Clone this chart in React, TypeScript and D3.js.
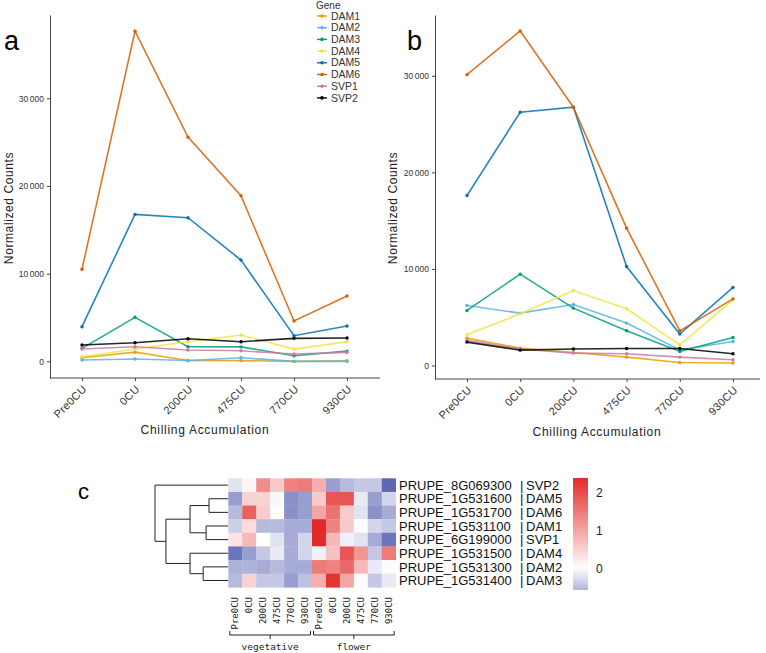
import React, { useEffect, useRef } from 'react';
import * as d3 from 'd3';

// Stages and genes
const stages = ['Pre0CU', '0CU', '200CU', '475CU', '770CU', '930CU'];
const genes = ['DAM1', 'DAM2', 'DAM3', 'DAM4', 'DAM5', 'DAM6', 'SVP1', 'SVP2'];
const geneColors = ['#E69F00', '#56B4E9', '#009E73', '#F0E442', '#0072B2', '#D55E00', '#CC79A7', '#000000'];

// Panel a (vegetative) normalized counts, one array per gene
const aDAM1 = [410, 1050, 100, 80, 0, 60];
const aDAM2 = [150, 260, 100, 410, 0, 0];
const aDAM3 = [1480, 5020, 1670, 1650, 640, 1170];
const aDAM4 = [530, 1400, 2240, 3000, 1400, 2240];
const aDAM5 = [3950, 16760, 16380, 11550, 2920, 4030];
const aDAM6 = [10500, 37660, 25570, 18880, 4600, 7450];
const aSVP1 = [1400, 1670, 1290, 1200, 830, 1020];
const aSVP2 = [1860, 2120, 2580, 2240, 2620, 2660];

// Panel b (flower) normalized counts
const bDAM1 = [2830, 1800, 1350, 870, 310, 250];
const bDAM2 = [6210, 5420, 6310, 4390, 1620, 2480];
const bDAM3 = [5700, 9460, 5940, 3590, 1450, 2900];
const bDAM4 = [3180, 5350, 7760, 5870, 2140, 6800];
const bDAM5 = [17600, 26230, 26750, 10250, 3250, 8080];
const bDAM6 = [30120, 34650, 26750, 14220, 3590, 6900];
const bSVP1 = [2600, 1700, 1280, 1210, 870, 590];
const bSVP2 = [2420, 1590, 1700, 1760, 1760, 1210];

const yTicks = [0, 10000, 20000, 30000];

// Heatmap (z-scores), rows in dendrogram order
const heatGenes = ['SVP2', 'DAM5', 'DAM6', 'DAM1', 'SVP1', 'DAM4', 'DAM2', 'DAM3'];
const heatIds = ['PRUPE_8G069300', 'PRUPE_1G531600', 'PRUPE_1G531700', 'PRUPE_1G531100',
  'PRUPE_6G199000', 'PRUPE_1G531500', 'PRUPE_1G531300', 'PRUPE_1G531400'];
const tissues = ['vegetative', 'flower'];
const heatValues = [
  [-0.2, 0.1, 1.3, 0.6, 1.4, 1.5, 0.9, -0.7, -0.5, -0.4, -0.4, -1.1],
  [-0.7, 0.5, 0.5, -0.05, -0.8, -0.7, 0.6, 1.9, 1.9, -0.15, -0.7, -0.3],
  [-0.5, 1.8, 0.6, 0.05, -0.8, -0.7, 1.0, 1.6, 0.6, -0.2, -0.8, -0.6],
  [-0.35, 0.4, -0.5, -0.5, -0.6, -0.6, 2.4, 1.4, 0.6, 0.05, -0.3, -0.4],
  [0.3, 0.8, 0.0, -0.2, -0.6, -0.3, 2.4, 0.8, -0.1, -0.2, -0.6, -1.0],
  [-1.0, -0.7, -0.4, -0.15, -0.6, -0.3, -0.1, 0.7, 1.9, 1.2, -0.4, 1.5],
  [-0.55, -0.55, -0.6, -0.5, -0.6, -0.6, 1.5, 1.4, 1.7, 0.8, -0.15, 0.05],
  [-0.5, 0.5, -0.4, -0.4, -0.7, -0.45, 0.9, 2.3, 1.0, 0.05, -0.4, -0.15],
];
const legendTicks = [0, 1, 2];

// Row dendrogram (relative merge heights)
const dendro = {
  h: 1, children: [
    { name: 'SVP2', h: 0 },
    {
      h: 0.85, children: [
        {
          h: 0.52, children: [
            { h: 0.26, children: [{ name: 'DAM5', h: 0 }, { name: 'DAM6', h: 0 }] },
            { h: 0.3, children: [{ name: 'DAM1', h: 0 }, { name: 'SVP1', h: 0 }] },
          ],
        },
        {
          h: 0.52, children: [
            { name: 'DAM4', h: 0 },
            { h: 0.34, children: [{ name: 'DAM2', h: 0 }, { name: 'DAM3', h: 0 }] },
          ],
        },
      ],
    },
  ],
};

const FONT = 'Liberation Sans, Arial, sans-serif';
const MONO = 'DejaVu Sans Mono, monospace';

function drawLinePanel(svg, series, o) {
  const g = svg.append('g');
  const x = d3.scalePoint().domain(stages).range(o.pts);
  const y = d3.scaleLinear().domain(o.domain).range([o.bottom, o.top]);

  // y axis
  const yAxis = d3.axisLeft(y).tickValues(yTicks).tickSize(3).tickSizeOuter(0)
    .tickFormat(d => d3.format(',')(d).replace(',', '\u2009'));
  const ya = g.append('g').attr('transform', `translate(${o.left},0)`).call(yAxis);
  ya.select('.domain').attr('stroke', '#444');
  ya.selectAll('.tick line').attr('stroke', '#444');
  ya.selectAll('.tick text').attr('font-family', FONT).attr('font-size', 8.5).attr('fill', '#333');

  // x axis
  const xAxis = d3.axisBottom(x).tickSize(3).tickSizeOuter(0);
  const xa = g.append('g').attr('transform', `translate(0,${o.bottom})`).call(xAxis);
  xa.select('.domain').remove();
  xa.append('line').attr('x1', o.left).attr('x2', o.right).attr('stroke', '#444');
  xa.selectAll('.tick line').attr('stroke', '#444');
  xa.selectAll('.tick text')
    .attr('font-family', FONT).attr('font-size', 11).attr('fill', '#333')
    .attr('letter-spacing', 0.3)
    .attr('text-anchor', 'end').attr('dy', '0.35em').attr('y', 0)
    .attr('transform', 'translate(2,9) rotate(-45)');

  const line = d3.line().x((_, i) => x(stages[i])).y(d => y(d));
  series.forEach((vals, k) => {
    g.append('path').datum(vals).attr('d', line).attr('fill', 'none')
      .attr('stroke', geneColors[k]).attr('stroke-width', 1.6).attr('stroke-opacity', 0.85);
    g.selectAll(null).data(vals).enter().append('circle')
      .attr('cx', (_, i) => x(stages[i])).attr('cy', d => y(d)).attr('r', 1.7)
      .attr('fill', geneColors[k]);
  });

  g.append('text').attr('x', o.labelX).attr('y', 50).text(o.label)
    .attr('font-family', FONT).attr('font-size', 27);
  g.append('text').attr('transform', `translate(${o.titleX},${o.titleCy}) rotate(-90)`)
    .attr('text-anchor', 'middle').attr('font-family', FONT).attr('font-size', 12)
    .attr('letter-spacing', 0.6).attr('fill', '#222')
    .text('Normalized Counts');
  g.append('text').attr('x', o.xTitleCx).attr('y', o.xTitleY)
    .attr('text-anchor', 'middle').attr('font-family', FONT).attr('font-size', 12)
    .attr('letter-spacing', 0.7).attr('fill', '#222')
    .text('Chilling Accumulation');
}

const App = () => {
  const ref = useRef(null);

  useEffect(() => {
    const svg = d3.select(ref.current);
    svg.selectAll('*').remove();

    drawLinePanel(svg, [aDAM1, aDAM2, aDAM3, aDAM4, aDAM5, aDAM6, aSVP1, aSVP2], {
      left: 50, right: 380, top: 15, bottom: 378, pts: [82, 347], domain: [-1900, 39500],
      label: 'a', labelX: 4, titleX: 13, titleCy: 208, xTitleCx: 205, xTitleY: 434,
    });
    drawLinePanel(svg, [bDAM1, bDAM2, bDAM3, bDAM4, bDAM5, bDAM6, bSVP1, bSVP2], {
      left: 435, right: 760, top: 15, bottom: 379, pts: [467, 733], domain: [-1400, 36300],
      label: 'b', labelX: 407, titleX: 397, titleCy: 208, xTitleCx: 597, xTitleY: 436,
    });

    // Legend
    const lg = svg.append('g').attr('font-family', FONT);
    lg.append('text').attr('x', 316).attr('y', 9).attr('font-size', 10).attr('fill', '#333').text('Gene');
    genes.forEach((gname, i) => {
      const cy = 16 + i * 11.7;
      lg.append('line').attr('x1', 317).attr('x2', 327).attr('y1', cy).attr('y2', cy)
        .attr('stroke', geneColors[i]).attr('stroke-width', 1.4);
      lg.append('circle').attr('cx', 322).attr('cy', cy).attr('r', 1.8).attr('fill', geneColors[i]);
      lg.append('text').attr('x', 331).attr('y', cy).attr('dy', '0.35em').attr('font-size', 10.5)
        .attr('fill', '#333').text(gname);
    });

    // Heatmap
    const cols = tissues.flatMap(t => stages.map(s => `${t}|${s}`));
    const hx = d3.scaleBand().domain(cols).range([228.3, 395.7]);
    const hy = d3.scaleBand().domain(heatGenes).range([478.3, 587.3]);
    const color = d3.scaleLinear<string>().domain([-1.2, 0, 2.4])
      .range(['#4f59ad', '#ffffff', '#e32a2a']).clamp(true);

    const hm = svg.append('g');
    heatValues.forEach((row, r) => {
      hm.selectAll(null).data(row).enter().append('rect')
        .attr('x', (_, c) => hx(cols[c])).attr('y', hy(heatGenes[r]))
        .attr('width', hx.bandwidth() + 0.3).attr('height', hy.bandwidth() + 0.3)
        .attr('fill', d => color(d));
    });

    // row labels
    heatGenes.forEach((gname, r) => {
      const cy = hy(gname) + hy.bandwidth() / 2;
      hm.append('text').attr('x', 399).attr('y', cy).attr('dy', '0.36em')
        .attr('font-family', FONT).attr('font-size', 13).attr('fill', '#111').text(heatIds[r]);
      hm.append('text').attr('x', 520).attr('y', cy).attr('dy', '0.36em')
        .attr('font-family', FONT).attr('font-size', 13).attr('fill', '#111').text('|');
      hm.append('text').attr('x', 526).attr('y', cy).attr('dy', '0.36em')
        .attr('font-family', FONT).attr('font-size', 13).attr('fill', '#111').text(gname);
    });

    // column labels
    cols.forEach(c => {
      const cx = hx(c) + hx.bandwidth() / 2;
      hm.append('text').attr('transform', `translate(${cx},597) rotate(-90)`)
        .attr('text-anchor', 'end').attr('dy', '0.35em')
        .attr('font-family', MONO).attr('font-size', 9).attr('fill', '#222')
        .text(c.split('|')[1]);
    });

    // tissue brackets
    tissues.forEach(t => {
      const tc = cols.filter(c => c.startsWith(t));
      const x0 = hx(tc[0]) + 1.5;
      const x1 = hx(tc[tc.length - 1]) + hx.bandwidth() - 1.5;
      const xm = (x0 + x1) / 2;
      hm.append('path')
        .attr('d', `M${x0},631 L${x0},635 L${x1},635 L${x1},631 M${xm},635 L${xm},639`)
        .attr('fill', 'none').attr('stroke', '#222').attr('stroke-width', 1);
      hm.append('text').attr('x', xm).attr('y', 650).attr('text-anchor', 'middle')
        .attr('font-family', MONO).attr('font-size', 9.5).attr('fill', '#222').text(t);
    });

    // dendrogram
    const root = d3.hierarchy(dendro);
    const dx = d3.scaleLinear().domain([0, 1]).range([228, 155]);
    const ypos = new Map();
    root.eachAfter(n => {
      if (!n.children) ypos.set(n, hy(n.data.name) + hy.bandwidth() / 2);
      else ypos.set(n, d3.mean(n.children, ch => ypos.get(ch)));
    });
    const dg = svg.append('g').attr('fill', 'none').attr('stroke', '#222').attr('stroke-width', 1);
    root.descendants().forEach(n => {
      if (!n.children) return;
      const px = dx(n.data.h);
      const ys = n.children.map(ch => ypos.get(ch));
      dg.append('path').attr('d', `M${px},${d3.min(ys)} L${px},${d3.max(ys)}`);
      n.children.forEach(ch => {
        dg.append('path').attr('d', `M${px},${ypos.get(ch)} L${dx(ch.data.h)},${ypos.get(ch)}`);
      });
    });

    svg.append('text').attr('x', 78).attr('y', 499).attr('font-family', FONT)
      .attr('font-size', 22).text('c');

    // color bar
    const ly = d3.scaleLinear().domain([-0.55, 2.39]).range([590, 478]);
    const defs = svg.append('defs');
    const grad = defs.append('linearGradient').attr('id', 'zgrad')
      .attr('x1', 0).attr('y1', 1).attr('x2', 0).attr('y2', 0);
    d3.range(0, 1.0001, 0.1).forEach(t => {
      const v = -0.55 + t * (2.39 + 0.55);
      grad.append('stop').attr('offset', t).attr('stop-color', color(v));
    });
    svg.append('rect').attr('x', 573).attr('y', 478).attr('width', 15).attr('height', 112)
      .attr('fill', 'url(#zgrad)');
    legendTicks.forEach(v => {
      svg.append('text').attr('x', 596).attr('y', ly(v)).attr('dy', '0.36em')
        .attr('font-family', FONT).attr('font-size', 12).attr('fill', '#222').text(v);
    });
  }, []);

  return (
    <svg ref={ref} width={766} height={653}
      style={{ position: 'absolute', left: 0, top: 0, background: '#fff' }} />
  );
};

export default App;
